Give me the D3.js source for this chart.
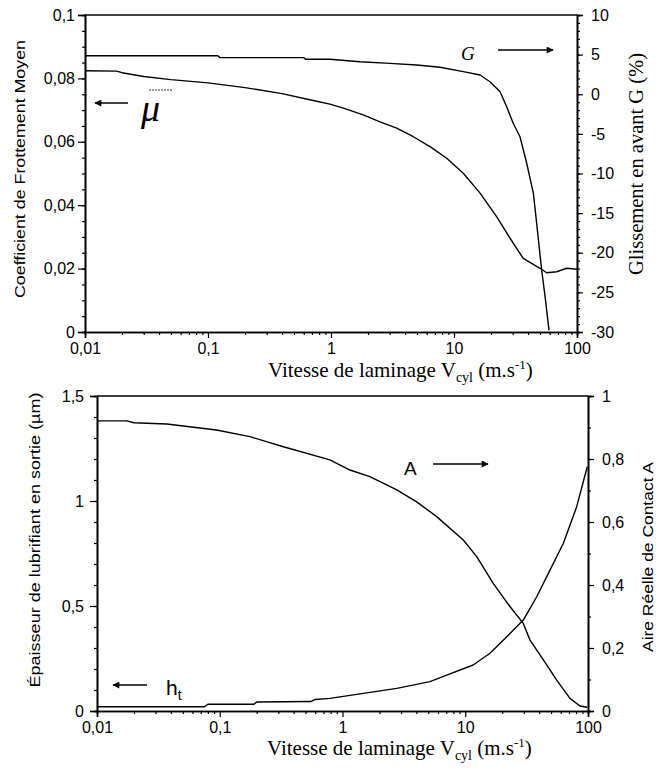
<!DOCTYPE html>
<html><head><meta charset="utf-8">
<script src="https://cdn.jsdelivr.net/npm/d3@7"></script>
<style>body{margin:0;background:#fff}svg{display:block}</style>
</head><body>
<svg id="c" width="661" height="774"></svg>
<script>
// ---- data ----
const xTicks = [0.01, 0.1, 1, 10, 100];
const xTickLabels = ["0,01", "0,1", "1", "10", "100"];

// top chart: mean friction coefficient (left axis)
const muV   = [0.01,0.018,0.02,0.03,0.05,0.1,0.2,0.4,0.7,0.98,1.26,1.83,2.5,3.42,4.67,6.38,8.72,11.9,16.3,22.2,30.3,36.6,50,56.7,68.4,82.4,100];
const muVal = [0.0824,0.0823,0.0818,0.0806,0.0796,0.0786,0.0771,0.0752,0.0731,0.0719,0.0706,0.0685,0.0663,0.0643,0.0616,0.0585,0.0548,0.0501,0.0438,0.0364,0.0280,0.0232,0.0201,0.0187,0.0190,0.0201,0.0198];
// top chart: forward slip G (%) (right axis)
const gV   = [0.01,0.12,0.125,0.6,0.62,0.98,1.72,3.02,4.98,7.69,11.9,16.3,19.6,23.7,26.8,30.3,34.4,39.0,44.2,47.0,51.6,55.0,59.2];
const gVal = [4.85,4.85,4.62,4.62,4.42,4.41,4.11,3.90,3.69,3.40,2.85,2.43,1.58,0.32,-1.57,-3.66,-5.36,-8.71,-12.5,-16.3,-22.2,-25.5,-29.8];

// bottom chart: real contact area A (right axis)
const aV   = [0.01,0.0175,0.02,0.037,0.094,0.176,0.33,0.79,1.15,1.67,2.77,4.02,5.85,9.64,12.4,16.9,23.2,29.7,33.7,43.3,55.6,71.3,86.1,98.6];
const aVal = [0.921,0.921,0.915,0.911,0.892,0.871,0.839,0.797,0.765,0.744,0.702,0.664,0.617,0.543,0.490,0.405,0.331,0.278,0.225,0.162,0.098,0.040,0.016,0.012];
// bottom chart: exit lubricant film thickness h_t (µm) (left axis)
const hV   = [0.01,0.075,0.08,0.19,0.2,0.55,0.6,0.79,1.48,2.77,5.16,7.06,11.6,15.9,21.8,29.7,38.2,49.0,63.0,80.9,98.6];
const hVal = [0.020,0.020,0.032,0.032,0.043,0.045,0.055,0.060,0.084,0.108,0.140,0.171,0.219,0.275,0.354,0.433,0.544,0.671,0.799,0.973,1.163];

const topLeftTicks  = [0, 0.02, 0.04, 0.06, 0.08, 0.1];
const topRightTicks = [-30, -25, -20, -15, -10, -5, 0, 5, 10];
const botLeftTicks  = [0, 0.5, 1, 1.5];
const botRightTicks = [0, 0.2, 0.4, 0.6, 0.8, 1];

// ---- drawing ----
const svg = d3.select("#c");
const SANS = "'Liberation Sans', Arial, sans-serif";
const SERIF = "'Liberation Serif', 'Times New Roman', serif";
const fmt = d => String(+d.toFixed(4)).replace(".", ",");

const minorX = [];
for (let e = -2; e < 2; e++) for (let k = 2; k <= 9; k++) minorX.push(k * Math.pow(10, e));

function range(a, b, s) { const r = []; for (let v = a; v <= b + 1e-9; v += s) r.push(+v.toFixed(6)); return r; }

function panel(p) {
  const g = svg.append("g");
  const x = d3.scaleLog().domain([0.01, 100]).range([p.x0, p.x1]);
  const yl = d3.scaleLinear().domain(p.ld).range([p.y1, p.y0]);
  const yr = d3.scaleLinear().domain(p.rd).range([p.y1, p.y0]);

  // frame top line
  g.append("line").attr("x1", p.x0).attr("x2", p.x1).attr("y1", p.y0).attr("y2", p.y0)
    .attr("stroke", "#000").attr("stroke-width", 1.6);

  // x axis (minor + major in separate groups)
  g.append("g").attr("transform", `translate(0,${p.y1})`)
    .call(d3.axisBottom(x).tickValues(minorX).tickSize(3).tickFormat(""));
  g.append("g").attr("transform", `translate(0,${p.y1})`)
    .call(d3.axisBottom(x).tickValues(xTicks).tickSize(6).tickPadding(5).tickFormat((d, i) => xTickLabels[i]));

  // left axis
  g.append("g").attr("transform", `translate(${p.x0},0)`)
    .call(d3.axisLeft(yl).tickValues(p.lminor).tickSize(3).tickFormat(""));
  g.append("g").attr("transform", `translate(${p.x0},0)`)
    .call(d3.axisLeft(yl).tickValues(p.lt).tickSize(7).tickPadding(p.lpad).tickFormat(fmt));

  // right axis
  g.append("g").attr("transform", `translate(${p.x1},0)`)
    .call(d3.axisRight(yr).tickValues(p.rminor).tickSize(3).tickFormat(""));
  g.append("g").attr("transform", `translate(${p.x1},0)`)
    .call(d3.axisRight(yr).tickValues(p.rt).tickSize(6).tickPadding(8).tickFormat(fmt));

  g.selectAll(".domain").attr("stroke", "#000").attr("stroke-width", 1.6);
  g.selectAll(".tick line").attr("stroke", "#000").attr("stroke-width", 1.2);
  g.selectAll(".tick text").attr("font-family", SANS).attr("font-size", 16).attr("fill", "#000");

  // series
  const line = (sx, sy) => d3.line().x(d => sx(d[0])).y(d => sy(d[1]));
  p.series.forEach(s => {
    g.append("path").datum(d3.zip(s.v, s.y))
      .attr("d", line(x, s.axis === "l" ? yl : yr))
      .attr("fill", "none").attr("stroke", "#000").attr("stroke-width", 1.4)
      .attr("stroke-linejoin", "round");
  });
  return { g, x, yl, yr };
}

// arrow marker
svg.append("defs").append("marker").attr("id", "ah").attr("viewBox", "0 0 10 10")
  .attr("refX", 9).attr("refY", 5).attr("markerWidth", 10).attr("markerHeight", 7)
  .attr("markerUnits", "userSpaceOnUse").attr("orient", "auto")
  .append("path").attr("d", "M0,0 L10,5 L0,10 z").attr("fill", "#000");

function arrow(x1, y1, x2, y2) {
  svg.append("line").attr("x1", x1).attr("y1", y1).attr("x2", x2).attr("y2", y2)
    .attr("stroke", "#000").attr("stroke-width", 1.6).attr("marker-end", "url(#ah)");
}
function xlabel(x, y) {
  const t = svg.append("text").attr("x", x).attr("y", y).attr("text-anchor", "start")
    .attr("font-family", SERIF).attr("font-size", 21).attr("fill", "#000");
  t.append("tspan").text("Vitesse de laminage V");
  t.append("tspan").attr("font-size", 14).attr("dy", 5).text("cyl");
  t.append("tspan").attr("dy", -5).text(" (m.s");
  t.append("tspan").attr("font-size", 13).attr("dy", -8).text("-1");
  t.append("tspan").attr("dy", 8).text(")");
}
function vlabel(x, y, txt, fam, size, len) {
  svg.append("text").attr("transform", `translate(${x},${y}) rotate(-90)`)
    .attr("text-anchor", "middle").attr("font-family", fam).attr("font-size", size)
    .attr("textLength", len).attr("lengthAdjust", "spacingAndGlyphs")
    .attr("fill", "#000").text(txt);
}

// ---- top panel ----
panel({
  x0: 85, x1: 577, y0: 15, y1: 332,
  ld: [0, 0.1], rd: [-30, 10],
  lt: topLeftTicks, lminor: range(0, 0.1, 0.005), lpad: 3,
  rt: topRightTicks, rminor: range(-30, 10, 1),
  series: [{ v: muV, y: muVal, axis: "l" }, { v: gV, y: gVal, axis: "r" }]
});
xlabel(268, 377);
vlabel(25, 169, "Coefficient de Frottement Moyen", SANS, 15, 258);
vlabel(643, 164, "Glissement en avant G (%)", SERIF, 21, 222);
// μ̄ annotation
arrow(128, 103, 95, 103);
svg.append("text").attr("x", 141).attr("y", 121).attr("font-family", SERIF).attr("font-style", "italic")
  .attr("font-size", 38).attr("fill", "#000").text("μ");
svg.append("line").attr("x1", 149).attr("x2", 173).attr("y1", 90).attr("y2", 90)
  .attr("stroke", "#000").attr("stroke-width", 0.8).attr("stroke-dasharray", "2,1");
// G annotation
svg.append("text").attr("x", 461).attr("y", 60).attr("font-family", SERIF).attr("font-style", "italic")
  .attr("font-size", 19).attr("fill", "#000").text("G");
arrow(498, 50, 553, 50);

// ---- bottom panel ----
panel({
  x0: 97, x1: 588, y0: 396, y1: 711,
  ld: [0, 1.5], rd: [0, 1],
  lt: botLeftTicks, lminor: range(0, 1.5, 0.1), lpad: 6,
  rt: botRightTicks, rminor: range(0, 1, 0.1),
  series: [{ v: aV, y: aVal, axis: "r" }, { v: hV, y: hVal, axis: "l" }]
});
xlabel(267, 755);
vlabel(40, 540, "Épaisseur de lubrifiant en sortie (µm)", SANS, 15, 295);
vlabel(653, 557, "Aire Réelle de Contact A", SANS, 15, 190);
// A annotation
svg.append("text").attr("x", 404).attr("y", 475).attr("font-family", SANS)
  .attr("font-size", 19).attr("fill", "#000").text("A");
arrow(433, 464, 488, 464);
// h_t annotation
arrow(147, 685, 113, 685);
const ht = svg.append("text").attr("x", 166).attr("y", 695).attr("font-family", SANS)
  .attr("font-size", 21).attr("fill", "#000");
ht.append("tspan").text("h");
ht.append("tspan").attr("font-size", 14).attr("dy", 5).text("t");
</script>
</body></html>
